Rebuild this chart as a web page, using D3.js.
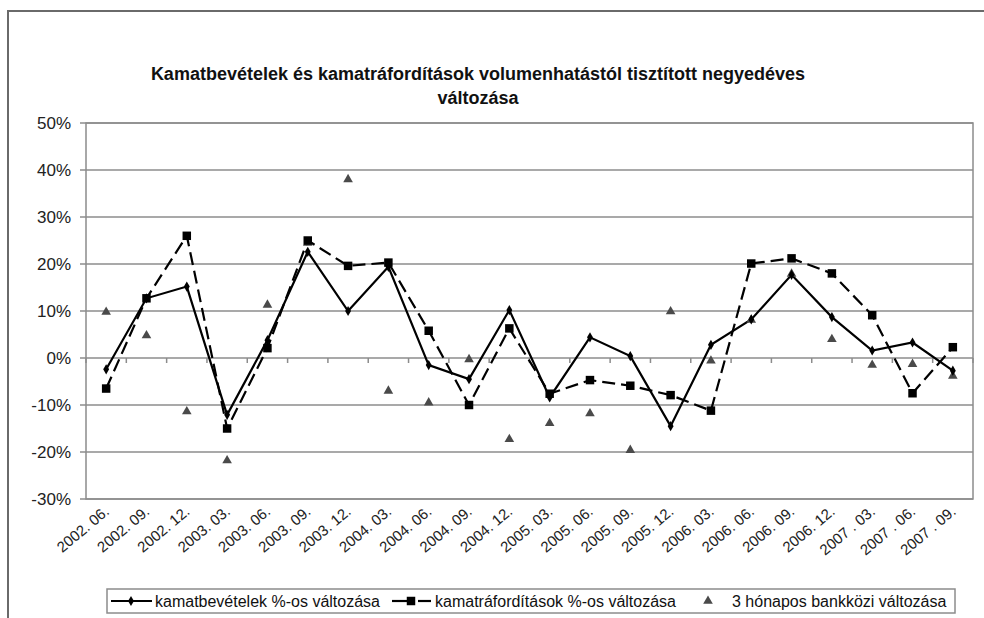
<!DOCTYPE html>
<html>
<head>
<meta charset="utf-8">
<script src="https://cdn.jsdelivr.net/npm/d3@7"></script>
<style>
  html, body { margin: 0; padding: 0; background: #fff; }
  svg { display: block; font-family: "Liberation Sans", Arial, sans-serif; }
</style>
</head>
<body>
<svg id="chart" width="984" height="618"></svg>
<script>
const categories = ["2002. 06.", "2002. 09.", "2002. 12.", "2003. 03.", "2003. 06.", "2003. 09.", "2003. 12.",
  "2004. 03.", "2004. 06.", "2004. 09.", "2004. 12.", "2005. 03.", "2005. 06.", "2005. 09.", "2005. 12.",
  "2006. 03.", "2006. 06.", "2006. 09.", "2006. 12.", "2007 . 03.", "2007 . 06.", "2007 . 09."];

const kamatbevetelek = [-2.4, 12.7, 15.2, -12.1, 3.8, 22.6, 10.0, 19.4, -1.5, -4.5, 10.2, -8.4,
  4.4, 0.4, -14.5, 2.8, 8.2, 17.7, 8.7, 1.6, 3.3, -2.7];

const kamatraforditasok = [-6.5, 12.7, 26.0, -15.0, 2.1, 25.0, 19.6, 20.3, 5.8, -10.0, 6.3, -7.6,
  -4.7, -5.9, -7.9, -11.2, 20.1, 21.2, 18.0, 9.1, -7.5, 2.3];

const bankkozi = [9.8, 4.8, -11.4, -21.8, 11.3, 24.5, 38.0, -7.0, -9.5, -0.3, -17.3, -13.9,
  -11.8, -19.6, 9.9, -0.6, 8.1, 17.9, 4.0, -1.5, -1.3, -3.8];

const yTicks = [-30, -20, -10, 0, 10, 20, 30, 40, 50];

const titleLines = ["Kamatbevételek és kamatráfordítások volumenhatástól tisztított negyedéves", "változása"];
const legendLabels = ["kamatbevételek %-os változása", "kamatráfordítások %-os változása", "3 hónapos bankközi változása"];

const svg = d3.select("#chart");
const L = 86, R = 973, T = 123, B = 499;

const x = d3.scaleBand().domain(categories).range([L, R]);
const y = d3.scaleLinear().domain([-30, 50]).range([B, T]);
const cx = c => x(c) + x.bandwidth() / 2;

// outer frame
svg.append("rect").attr("x", 8).attr("y", 11).attr("width", 1000).attr("height", 640)
  .attr("fill", "#fff").attr("stroke", "#6a6a6a").attr("stroke-width", 2);

// title
const title = svg.append("text").attr("text-anchor", "middle").attr("font-weight", "bold")
  .attr("font-size", 18).attr("fill", "#111");
titleLines.forEach((t, i) => {
  title.append("tspan").attr("x", 478).attr("y", 80 + i * 24).text(t);
});

// gridlines
svg.append("g").selectAll("line").data(yTicks).join("line")
  .attr("x1", L - 6).attr("x2", R).attr("y1", d => y(d)).attr("y2", d => y(d))
  .attr("stroke", "#8c8c8c").attr("stroke-width", 1.5);

// plot border
svg.append("rect").attr("x", L).attr("y", T).attr("width", R - L).attr("height", B - T)
  .attr("fill", "none").attr("stroke", "#8c8c8c").attr("stroke-width", 1.5);

// y axis labels
svg.append("g").selectAll("text").data(yTicks).join("text")
  .attr("x", 71).attr("y", d => y(d)).attr("dy", "0.35em").attr("text-anchor", "end")
  .attr("font-size", 17).attr("fill", "#222").text(d => d + "%");

// category ticks on the 0% line
const bounds = categories.map(c => x(c)).concat([R]);
svg.append("g").selectAll("line").data(bounds).join("line")
  .attr("x1", d => d).attr("x2", d => d).attr("y1", y(0)).attr("y2", y(0) + 5)
  .attr("stroke", "#8c8c8c").attr("stroke-width", 1.5);

// x labels
svg.append("g").selectAll("text").data(categories).join("text")
  .attr("transform", d => `translate(${cx(d) + 4},${B + 14}) rotate(-40)`)
  .attr("text-anchor", "end").attr("font-size", 15).attr("fill", "#222").text(d => d);

// series 2 dashed line
const line = d3.line().x((d, i) => cx(categories[i])).y(d => y(d));
svg.append("path").datum(kamatraforditasok).attr("d", line)
  .attr("fill", "none").attr("stroke", "#000").attr("stroke-width", 2.2).attr("stroke-dasharray", "13,6");
// series 1 solid
svg.append("path").datum(kamatbevetelek).attr("d", line)
  .attr("fill", "none").attr("stroke", "#000").attr("stroke-width", 2.2);

const tri = d3.symbol().type(d3.symbolTriangle).size(40);
const sq = d3.symbol().type(d3.symbolSquare).size(72);
const dia = d3.symbol().type(d3.symbolDiamond).size(30);

// triangles
svg.append("g").selectAll("path").data(bankkozi).join("path")
  .attr("d", tri).attr("transform", (d, i) => `translate(${cx(categories[i])},${y(d)})`)
  .attr("fill", "#4a4a4a");
// squares
svg.append("g").selectAll("path").data(kamatraforditasok).join("path")
  .attr("d", sq).attr("transform", (d, i) => `translate(${cx(categories[i])},${y(d)})`)
  .attr("fill", "#000");
// diamonds
svg.append("g").selectAll("path").data(kamatbevetelek).join("path")
  .attr("d", dia).attr("transform", (d, i) => `translate(${cx(categories[i])},${y(d)})`)
  .attr("fill", "#000");

// legend
const lg = svg.append("g");
lg.append("rect").attr("x", 107).attr("y", 589).attr("width", 848).attr("height", 24)
  .attr("fill", "#fff").attr("stroke", "#8c8c8c").attr("stroke-width", 1.5);
const ly = 601;
// item 1
lg.append("line").attr("x1", 111).attr("x2", 152).attr("y1", ly).attr("y2", ly).attr("stroke", "#000").attr("stroke-width", 2.2);
lg.append("path").attr("d", dia).attr("transform", `translate(131,${ly})`).attr("fill", "#000");
lg.append("text").attr("x", 155).attr("y", ly).attr("dy", "0.35em").attr("font-size", 16).attr("fill", "#111").text(legendLabels[0]);
// item 2
lg.append("line").attr("x1", 392).attr("x2", 408).attr("y1", ly).attr("y2", ly).attr("stroke", "#000").attr("stroke-width", 2.2);
lg.append("line").attr("x1", 418).attr("x2", 431).attr("y1", ly).attr("y2", ly).attr("stroke", "#000").attr("stroke-width", 2.2);
lg.append("path").attr("d", sq).attr("transform", `translate(411,${ly})`).attr("fill", "#000");
lg.append("text").attr("x", 435).attr("y", ly).attr("dy", "0.35em").attr("font-size", 16).attr("fill", "#111").text(legendLabels[1]);
// item 3
lg.append("path").attr("d", tri).attr("transform", `translate(708,${ly})`).attr("fill", "#4a4a4a");
lg.append("text").attr("x", 732).attr("y", ly).attr("dy", "0.35em").attr("font-size", 16).attr("fill", "#111").text(legendLabels[2]);
</script>
</body>
</html>
